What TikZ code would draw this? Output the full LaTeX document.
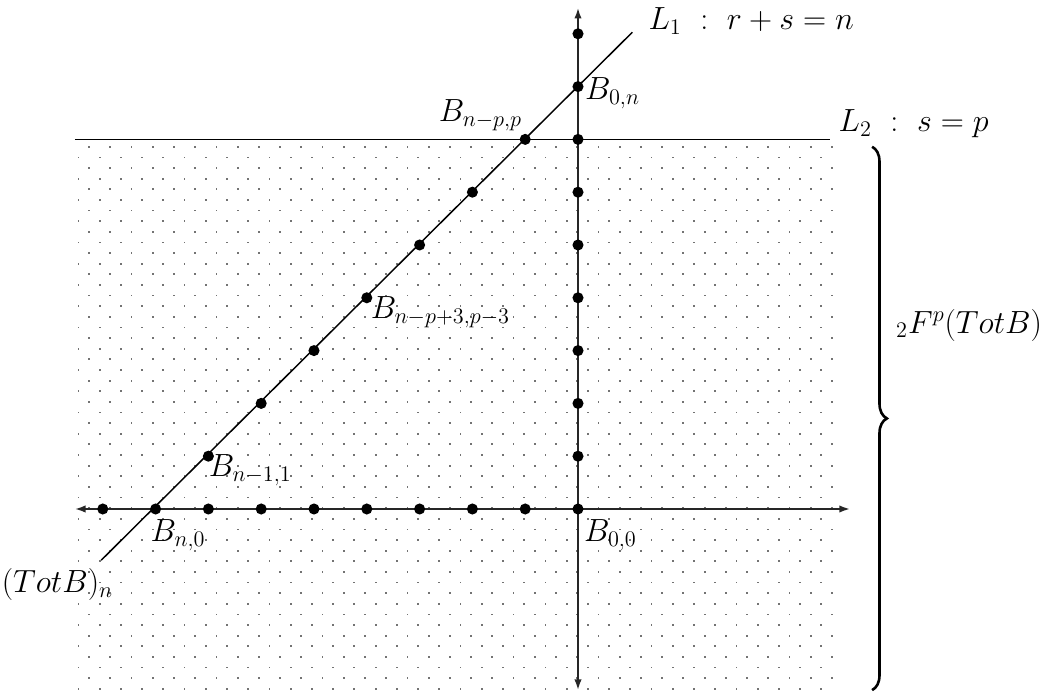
\documentclass[tikz,border=0pt]{standalone}
\usetikzlibrary{arrows.meta,decorations.pathreplacing}
\begin{document}
\begin{tikzpicture}[
  lbl/.style={anchor=base west,inner sep=0pt,font=\LARGE},
  pt/.style={circle,fill=black,inner sep=0pt,minimum size=0.21cm},
  ax/.style={line width=0.95pt,draw=black!85,{Latex[length=0.2cm,width=0.14cm]}-{Latex[length=0.2cm,width=0.14cm]}},
  ln/.style={line width=0.8pt},
  bg/.style={fill=black!55}
]
\useasboundingbox (-10.947,-3.598) rectangle (8.958,9.640);
% dotted region
\foreach \j in {0,...,51}{
  \pgfmathsetmacro\yy{6.86-0.2013*\j}
  \pgfmathsetmacro\xs{ifthenelse(mod(\j,2)==0,-9.26,-9.461)}
  \foreach \i in {0,...,35}{
    \pgfmathsetmacro\xx{\xs+0.402*\i}
    \ifdim\xx pt<4.9pt
      \fill[bg] (\xx-0.017,\yy-0.017) rectangle ++(0.034,0.034);
    \fi
  }
}
% lines
\coordinate (L1s) at (-9.03,-0.97);
\coordinate (L1e) at (1.03,9.03);
\coordinate (L2s) at (-9.527,7);
\coordinate (L2e) at (4.77,7);
\coordinate (Xl) at (-9.527,0);
\coordinate (Xr) at (5.15,0);
\coordinate (Yb) at (0,-3.428);
\coordinate (Yt) at (0,9.49);
\draw[ln] (L2s) -- (L2e);
\draw[ln] (L1s) -- (L1e);
\draw[ax] (Xl) -- (Xr);
\draw[ax] (Yb) -- (Yt);
% dots on axes
\foreach \r in {-9,...,-1} \node[pt] (x\r) at (\r,0) {};
\foreach \s in {0,...,9} \node[pt] (y\s) at (0,\s) {};
\foreach \k in {1,...,7} \node[pt] (d\k) at (-8+\k,\k) {};
% labels
\node[lbl] (l1) at (1.33,9.085) {$L_1\ :\ r+s=n$};
\node[lbl] (l2) at (4.93,7.14) {$L_2\ :\ s=p$};
\node[lbl] (b0n) at (0.13,7.75) {$B_{0,n}$};
\node[lbl] (bnpp) at (-2.64,7.34) {$B_{n-p,p}$};
\node[lbl] (bnp3) at (-3.93,3.61) {$B_{n-p+3,p-3}$};
\node[lbl] (bn11) at (-7.0,0.61) {$B_{n-1,1}$};
\node[lbl] (bn0) at (-8.1,-0.62) {$B_{n,0}$};
\node[lbl] (b00) at (0.11,-0.62) {$B_{0,0}$};
\node[lbl] (tot) at (-10.92,-1.59) {$(TotB)_n$};
\node[lbl] (fp) at (6.02,3.33) {${}_2F^p(TotB)$};
% brace
\coordinate (Bt) at (5.57,6.86);
\coordinate (Bb) at (5.57,-3.43);
\draw[decorate,decoration={brace,amplitude=0.28cm},line width=1.4pt] (Bt) -- (Bb);
\end{tikzpicture}
\end{document}
